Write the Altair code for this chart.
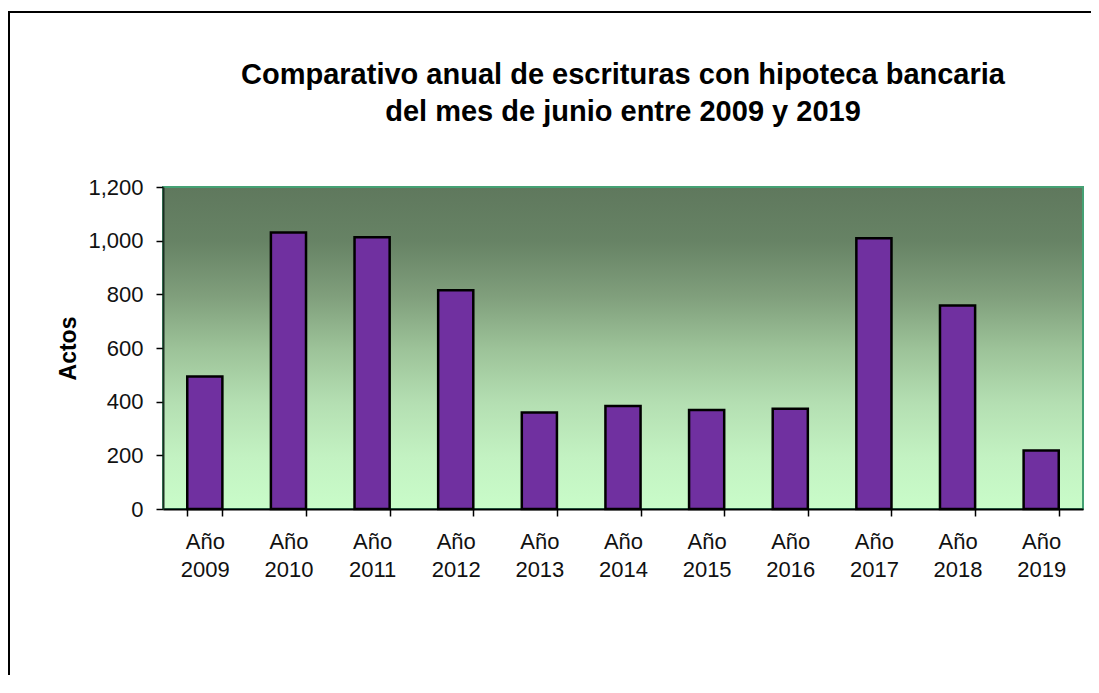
import altair as alt
import pandas as pd

years = ["Año 2009", "Año 2010", "Año 2011", "Año 2012", "Año 2013", "Año 2014",
         "Año 2015", "Año 2016", "Año 2017", "Año 2018", "Año 2019"]
actos = [494, 1030, 1013, 815, 360, 384, 369, 374, 1009, 758, 218]

df = pd.DataFrame({"anio": years, "actos": actos})

W, H = 920, 322
PAD = {"left": 155, "top": 179, "right": 8, "bottom": 166}

grad = alt.LinearGradient(
    gradient="linear",
    stops=[
        alt.GradientStop(color="#5f785d", offset=0),
        alt.GradientStop(color="#678365", offset=0.17),
        alt.GradientStop(color="#809f7c", offset=0.34),
        alt.GradientStop(color="#9cc298", offset=0.5),
        alt.GradientStop(color="#b4dfb2", offset=0.67),
        alt.GradientStop(color="#c3f2c2", offset=0.84),
        alt.GradientStop(color="#c9fcc9", offset=1),
    ],
    x1=0, x2=0, y1=0, y2=1,
)

bg = alt.Chart(df).mark_rect(color=grad, stroke="#45a174", strokeWidth=2).encode(
    x=alt.value(0), x2=alt.value(W), y=alt.value(0), y2=alt.value(H)
)

bars = alt.Chart(df).mark_bar(
    color="#7030a0", stroke="#000000", strokeWidth=2.5
).encode(
    x=alt.X(
        "anio:N",
        sort=years,
        scale=alt.Scale(paddingInner=0.58, paddingOuter=0.29, round=False),
        axis=alt.Axis(
            title=None,
            labelAngle=0,
            labelExpr="split(datum.label, ' ')",
            labelFont="Liberation Sans",
            labelFontSize=22,
            labelColor="#111111",
            labelLineHeight=28,
            labelPadding=15,
            tickBand="extent",
            tickSize=7,
            tickColor="#000000",
            tickWidth=1.5,
            domainColor="#000000",
            domainWidth=2,
            zindex=2,
        ),
    ),
    y=alt.Y(
        "actos:Q",
        scale=alt.Scale(domain=[0, 1200], nice=False),
        axis=alt.Axis(
            title="Actos",
            values=[0, 200, 400, 600, 800, 1000, 1200],
            format=",d",
            labelFont="Liberation Sans",
            labelFontSize=22,
            labelColor="#111111",
            labelPadding=13,
            tickSize=7,
            tickColor="#000000",
            tickWidth=1.5,
            domainColor="#1a2e22",
            domainWidth=2,
            grid=False,
            titleFont="Liberation Sans",
            titleFontSize=23,
            titleFontWeight="bold",
            titleColor="#000000",
            titlePadding=7,
            zindex=2,
        ),
    ),
)

frame_top = alt.Chart(df).mark_rule(color="#000000", strokeWidth=2).encode(
    x=alt.value(-155), x2=alt.value(W + PAD["right"]), y=alt.value(-175)
)
frame_left = alt.Chart(df).mark_rule(color="#000000", strokeWidth=2).encode(
    x=alt.value(-154), y=alt.value(-175), y2=alt.value(H + PAD["bottom"])
)

chart = alt.layer(frame_top, frame_left, bg, bars).properties(
    width=W,
    height=H,
    padding=PAD,
    autosize=alt.AutoSizeParams(type="none"),
    background="#ffffff",
    title=alt.TitleParams(
        text=["Comparativo anual de escrituras con hipoteca bancaria",
              "del mes de junio entre 2009 y 2019"],
        font="Liberation Sans",
        fontSize=29,
        fontWeight="bold",
        color="#000000",
        anchor="middle",
        frame="group",
        lineHeight=37,
        offset=-116,
    ),
).configure_view(stroke=None)

chart.save("out.html", embed_options={"renderer": "svg", "actions": False})
